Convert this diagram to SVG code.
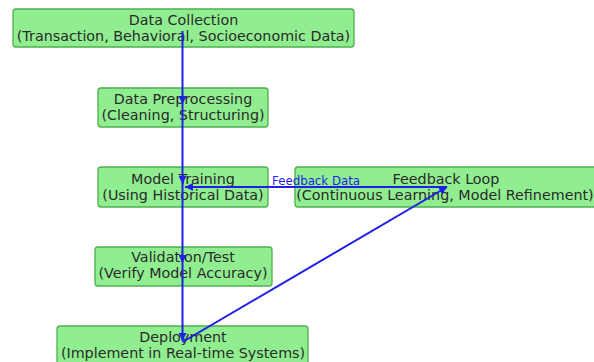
<svg xmlns="http://www.w3.org/2000/svg" width="594" height="362" viewBox="0 0 594 362">
<style>
.box{fill:#90ee90;stroke:#4fae4f;stroke-width:1.3}
.t{font-family:"DejaVu Sans",sans-serif;font-size:14.3px;fill:#2a2a2a;text-anchor:middle}
.c{stroke:#1f1fe6;stroke-width:2;fill:none;marker-end:url(#ah)}
.lbl{font-family:"DejaVu Sans",sans-serif;font-size:11.8px;fill:#1f1fe6}
</style>
<defs>
<marker id="ah" viewBox="0 0 10 10" refX="10" refY="5" markerWidth="4" markerHeight="4" orient="auto" markerUnits="strokeWidth">
<path d="M0,0 L10,5 L0,10 z" fill="#1f1fe6"/>
</marker>
</defs>
<rect width="594" height="362" fill="#ffffff"/>
<g id="data-collection">
<rect class="box" x="13" y="9" width="341" height="38" rx="3"/>
<text class="t" x="183.5" y="25">Data Collection</text>
<text class="t" x="183.5" y="41">(Transaction, Behavioral, Socioeconomic Data)</text>
</g>
<g id="data-preprocessing">
<rect class="box" x="98" y="88" width="170" height="39" rx="3"/>
<text class="t" x="183" y="104">Data Preprocessing</text>
<text class="t" x="183" y="120">(Cleaning, Structuring)</text>
</g>
<g id="model-training">
<rect class="box" x="98" y="167" width="170" height="40" rx="3"/>
<text class="t" x="183" y="184">Model Training</text>
<text class="t" x="183" y="200">(Using Historical Data)</text>
</g>
<g id="feedback-loop">
<rect class="box" x="295" y="167" width="302" height="40" rx="3"/>
<text class="t" x="446" y="184">Feedback Loop</text>
<text class="t" x="445" y="200">(Continuous Learning, Model Refinement)</text>
</g>
<g id="validation">
<rect class="box" x="95" y="247" width="177" height="39" rx="3"/>
<text class="t" x="183" y="262">Validation/Test</text>
<text class="t" x="183" y="278">(Verify Model Accuracy)</text>
</g>
<g id="deployment">
<rect class="box" x="57" y="326" width="251" height="44" rx="3"/>
<text class="t" x="183" y="342">Deployment</text>
<text class="t" x="183" y="358">(Implement in Real-time Systems)</text>
</g>
<g id="connectors">
<line class="c" x1="182.5" y1="31" x2="182.5" y2="104"/>
<line class="c" x1="182.5" y1="104" x2="182.5" y2="184"/>
<line class="c" x1="182.5" y1="184" x2="182.5" y2="263"/>
<line class="c" x1="182.5" y1="263" x2="182.5" y2="341"/>
<line class="c" x1="182.5" y1="342" x2="447" y2="187"/>
<line class="c" x1="447" y1="187" x2="185" y2="187"/>
<text class="lbl" x="272" y="185">Feedback Data</text>
</g>
</svg>
